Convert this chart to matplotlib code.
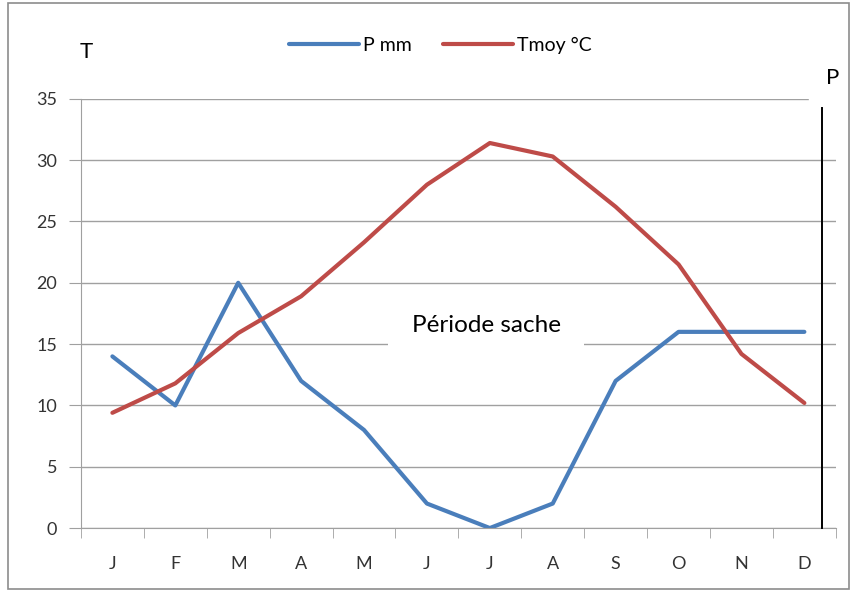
import matplotlib.pyplot as plt
from matplotlib.patches import Rectangle
from matplotlib.lines import Line2D

months = ["J", "F", "M", "A", "M", "J", "J", "A", "S", "O", "N", "D"]
p_mm = [14, 10, 20, 12, 8, 2, 0, 2, 12, 16, 16, 16]
t_moy = [9.4, 11.8, 15.9, 18.9, 23.3, 28.0, 31.4, 30.3, 26.2, 21.5, 14.2, 10.2]

blue = "#4a7ebb"
red = "#be4b48"
grid_col = "#a0a0a0"

plt.rcParams["font.family"] = ["Lato", "DejaVu Sans"]

fig = plt.figure(figsize=(8.52, 5.92), dpi=100)
ax = fig.add_axes([0.095, 0.108, 0.886, 0.725])

x = list(range(len(months)))
ax.plot(x, p_mm, color=blue, lw=3, label="P mm", solid_capstyle="round")
ax.plot(x, t_moy, color=red, lw=3, label="Tmoy °C", solid_capstyle="round")

ax.set_xlim(-0.5, 11.5)
ax.set_ylim(0, 35)
ax.set_yticks(range(0, 36, 5))
ax.set_xticks(x)
ax.set_xticklabels(months)
ax.set_xticks([i - 0.5 for i in range(13)], minor=True)
ax.tick_params(axis="x", which="major", length=0, pad=20, labelsize=13, labelcolor="#333333")
ax.tick_params(axis="x", which="minor", length=7, color=grid_col)
ax.tick_params(axis="y", length=9, color=grid_col, labelsize=13, labelcolor="#333333", pad=8)
ax.yaxis.grid(True, color=grid_col, lw=1)
ax.set_axisbelow(True)
for s in ["top", "right"]:
    ax.spines[s].set_visible(False)
for s in ["left", "bottom"]:
    ax.spines[s].set_color(grid_col)

# hide the end of the top gridline
ax.add_patch(Rectangle((0.965, 0.99), 0.04, 0.03, transform=ax.transAxes,
                       color="white", clip_on=False, zorder=1))

# right vertical line for P axis
fig.add_artist(Line2D([822 / 852, 822 / 852], [1 - 108 / 592, 1 - 528 / 592],
                      transform=fig.transFigure, color="black", lw=1.4))

ax.text(486 / 852, 1 - 325 / 592, "Période sache", transform=fig.transFigure,
        ha="center", va="center", fontsize=17.5, zorder=5,
        bbox=dict(facecolor="white", edgecolor="none", pad=17))

fig.text(86 / 852, 1 - 52 / 592, "T", fontsize=16, ha="center", va="center")
fig.text(833 / 852, 1 - 78 / 592, "P", fontsize=16, ha="center", va="center")

fig.legend(loc="center", bbox_to_anchor=(440 / 852, 1 - 45 / 592), ncol=2,
           frameon=False, fontsize=14, handlelength=3.6, columnspacing=1.6,
           handletextpad=0.2)

fig.patches.append(Rectangle((0.009, 0.005), 0.988, 0.99, transform=fig.transFigure,
                             fill=False, edgecolor="#8c8c8c", lw=1.2))

fig.savefig("out.png", dpi=100)
